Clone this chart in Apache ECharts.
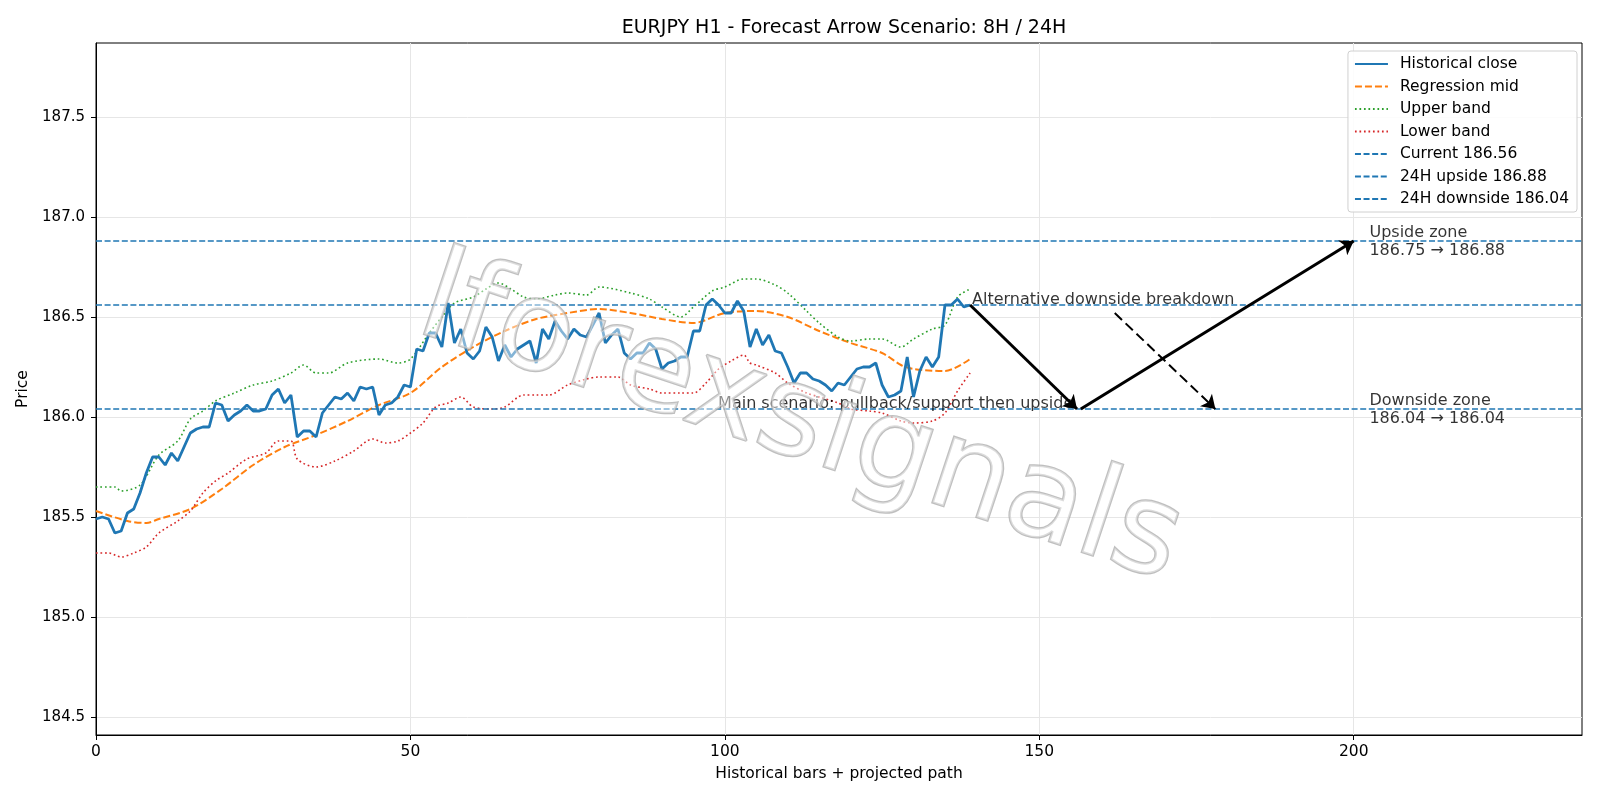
<!DOCTYPE html>
<html>
<head>
<meta charset="utf-8">
<title>EURJPY H1</title>
<script src="https://cdn.jsdelivr.net/npm/echarts@6/dist/echarts.min.js"></script>
<style>
    html, body { margin: 0; padding: 0; background: #fff; }
    #chart { width: 1600px; height: 800px; }
</style>
</head>
<body>
<div id="chart"></div>
<script>
    // historical closes, one per bar (index 0..139)
    var closes = [
        185.49, 185.50, 185.49, 185.42, 185.43, 185.52, 185.54, 185.62, 185.72, 185.80,
        185.80, 185.76, 185.82, 185.78, 185.85, 185.92, 185.94, 185.95, 185.95, 186.07,
        186.06, 185.98, 186.01, 186.03, 186.06, 186.03, 186.03, 186.04, 186.11, 186.14,
        186.07, 186.11, 185.90, 185.93, 185.93, 185.90, 186.02, 186.06, 186.10, 186.09,
        186.12, 186.08, 186.15, 186.14, 186.15, 186.01, 186.06, 186.07, 186.10, 186.16,
        186.15, 186.34, 186.33, 186.42, 186.42, 186.35, 186.57, 186.37, 186.44, 186.32,
        186.29, 186.33, 186.45, 186.40, 186.28, 186.36, 186.30, 186.34, 186.36, 186.38,
        186.27, 186.44, 186.39, 186.48, 186.43, 186.39, 186.44, 186.41, 186.40, 186.46,
        186.52, 186.37, 186.41, 186.44, 186.32, 186.29, 186.32, 186.32, 186.37, 186.34,
        186.24, 186.27, 186.28, 186.30, 186.30, 186.43, 186.43, 186.56, 186.59, 186.56,
        186.52, 186.52, 186.58, 186.53, 186.35, 186.44, 186.36, 186.41, 186.33, 186.32,
        186.25, 186.17, 186.22, 186.22, 186.19, 186.18, 186.16, 186.13, 186.17, 186.16,
        186.20, 186.24, 186.25, 186.25, 186.27, 186.16, 186.10, 186.11, 186.13, 186.30,
        186.10, 186.23, 186.30, 186.25, 186.30, 186.56, 186.56, 186.59, 186.55, 186.56
    ]

    // channel lines, read at sample bars [bar, price]
    var regMid = [
        [0, 185.53], [5, 185.48], [8, 185.47], [10, 185.49], [15, 185.54], [20, 185.64],
        [25, 185.76], [30, 185.85], [35, 185.91], [40, 185.98], [45, 186.06], [50, 186.12],
        [55, 186.25], [60, 186.35], [65, 186.43], [70, 186.49], [75, 186.52], [80, 186.54],
        [85, 186.52], [90, 186.49], [95, 186.47], [100, 186.52], [105, 186.53], [110, 186.50],
        [115, 186.43], [120, 186.37], [125, 186.32], [128, 186.26], [130, 186.24], [135, 186.23],
        [139, 186.29]
    ]

    var upperBand = [
        [0, 185.65], [3, 185.65], [4, 185.63], [7, 185.66], [10, 185.81], [13, 185.88],
        [15, 185.99], [17, 186.03], [19, 186.08], [22, 186.12], [25, 186.16], [28, 186.18],
        [31, 186.22], [33, 186.26], [35, 186.22], [37, 186.22], [40, 186.27], [45, 186.29],
        [48, 186.27], [50, 186.29], [53, 186.42], [55, 186.50], [57, 186.57], [60, 186.60],
        [62, 186.64], [64, 186.67], [66, 186.64], [68, 186.60], [70, 186.59], [73, 186.61],
        [75, 186.62], [78, 186.61], [80, 186.65], [85, 186.62], [88, 186.59], [90, 186.55],
        [93, 186.50], [95, 186.55], [98, 186.63], [100, 186.65], [103, 186.69], [105, 186.69],
        [108, 186.66], [110, 186.62], [113, 186.53], [115, 186.47], [118, 186.40], [120, 186.38],
        [123, 186.39], [125, 186.39], [128, 186.35], [130, 186.39], [133, 186.44], [135, 186.46],
        [137, 186.60], [139, 186.64]
    ]

    var lowerBand = [
        [0, 185.32], [2, 185.32], [4, 185.30], [6, 185.32], [8, 185.35], [10, 185.42],
        [13, 185.48], [15, 185.53], [17, 185.62], [19, 185.68], [21, 185.72], [24, 185.79],
        [27, 185.82], [29, 185.88], [31, 185.88], [32, 185.79], [35, 185.75], [38, 185.78],
        [41, 185.83], [44, 185.89], [46, 185.87], [48, 185.88], [50, 185.92], [52, 185.97],
        [54, 186.05], [56, 186.07], [58, 186.10], [60, 186.05], [63, 186.04], [65, 186.05],
        [68, 186.11], [70, 186.11], [72, 186.11], [75, 186.16], [78, 186.19], [80, 186.20],
        [83, 186.20], [85, 186.16], [88, 186.14], [90, 186.12], [93, 186.12], [95, 186.12],
        [97, 186.17], [99, 186.24], [101, 186.28], [103, 186.31], [104, 186.27], [105, 186.26],
        [108, 186.22], [110, 186.17], [113, 186.12], [115, 186.10], [118, 186.07], [120, 186.04],
        [123, 186.03], [125, 186.02], [128, 185.98], [130, 185.97], [133, 185.98], [135, 186.02],
        [137, 186.13], [139, 186.22]
    ]

    // levels
    var currentPrice = 186.56
    var upside24h = 186.88
    var downside24h = 186.04
    var upsideZone = [186.75, 186.88]
    var downsideZone = [186.04, 186.04]

    // scenario path [bar, price]
    var mainLeg1 = [[139, 186.56], [156, 186.04]]
    var mainLeg2 = [[156.6, 186.04], [200, 186.88]]
    var altLeg = [[162, 186.52], [178, 186.04]]

    // axes
    var xMin = 0
    var xMax = 236.3
    var yMin = 184.41
    var yMax = 187.87
    var xTicks = [0, 50, 100, 150, 200]
    var yTicks = [184.5, 185.0, 185.5, 186.0, 186.5, 187.0, 187.5]

    var FONT = 'DejaVu Sans'
    var FS = 15.5
    var GRID = { left: 96, right: 18, top: 43, bottom: 65 }
    var chart = echarts.init(document.getElementById('chart'))

    var closeData = closes.map(function (v, i) { return [i, v] })

    var hLine = function (name, level) {
        return {
            name: name,
            type: 'line',
            data: [[xMin, level], [xMax, level]],
            symbol: 'none',
            silent: true,
            itemStyle: { color: '#1f77b4' },
            lineStyle: { color: '#1f77b4', width: 1.5, type: [6, 2.6] },
            z: 3
        }
    }

    var arrow = function (coords, dashed) {
        return {
            type: 'lines',
            coordinateSystem: 'cartesian2d',
            data: [{ coords: coords }],
            symbol: ['none', 'arrow'],
            symbolSize: 13,
            silent: true,
            lineStyle: {
                color: '#000',
                width: dashed ? 2 : 3,
                type: dashed ? [10, 5] : 'solid',
                opacity: 1
            },
            z: 5
        }
    }

    var note = function (x, y, text, align, vAlign, offsetY) {
        return {
            value: [x, y],
            label: {
                show: true,
                formatter: text,
                position: [0, 0],
                align: align,
                verticalAlign: vAlign,
                offset: [0, offsetY],
                color: '#000',
                fontFamily: FONT,
                fontSize: 16,
                lineHeight: 17.5
            }
        }
    }

    var option = {
        animation: false,
        backgroundColor: '#fff',
        title: {
            text: 'EURJPY H1 - Forecast Arrow Scenario: 8H / 24H',
            left: (1600 - GRID.right + GRID.left) / 2,
            textAlign: 'center',
            top: 14,
            textStyle: { fontFamily: FONT, fontSize: 19, fontWeight: 'normal', color: '#000' }
        },
        legend: {
            orient: 'vertical',
            right: 23,
            top: 51,
            padding: [5, 8, 5, 6],
            itemWidth: 33,
            itemHeight: 14,
            itemGap: 6.5,
            backgroundColor: 'rgba(255,255,255,0.85)',
            borderColor: '#d0d0d0',
            borderWidth: 1,
            borderRadius: 3,
            itemStyle: { opacity: 0 },
            textStyle: { fontFamily: FONT, fontSize: FS, color: '#000', padding: [0, 0, 0, 7] },
            data: ['Historical close', 'Regression mid', 'Upper band', 'Lower band',
                'Current ' + currentPrice.toFixed(2),
                '24H upside ' + upside24h.toFixed(2),
                '24H downside ' + downside24h.toFixed(2)]
        },
        grid: {
            left: GRID.left,
            right: GRID.right,
            top: GRID.top,
            bottom: GRID.bottom,
            show: true,
            borderColor: '#000',
            borderWidth: 1,
            backgroundColor: 'transparent'
        },
        xAxis: {
            type: 'value',
            min: xMin,
            max: xMax,
            name: 'Historical bars + projected path',
            nameLocation: 'middle',
            nameGap: 31,
            nameTextStyle: { fontFamily: FONT, fontSize: FS, color: '#000' },
            axisLine: { lineStyle: { color: '#000' } },
            axisTick: { show: true, length: 5, lineStyle: { color: '#000' }, customValues: xTicks },
            axisLabel: { fontFamily: FONT, fontSize: FS, color: '#000', margin: 9, customValues: xTicks },
            splitLine: { show: true, lineStyle: { color: '#e6e6e6', width: 1 } }
        },
        yAxis: {
            type: 'value',
            min: yMin,
            max: yMax,
            name: 'Price',
            nameLocation: 'middle',
            nameGap: 60,
            nameTextStyle: { fontFamily: FONT, fontSize: FS, color: '#000' },
            axisLine: { show: true, lineStyle: { color: '#000' } },
            axisTick: { show: true, length: 5, lineStyle: { color: '#000' }, customValues: yTicks },
            axisLabel: {
                fontFamily: FONT, fontSize: 15, color: '#000', margin: 11,
                customValues: yTicks,
                formatter: function (v) { return v.toFixed(1) }
            },
            splitLine: { show: true, lineStyle: { color: '#e6e6e6', width: 1 } }
        },
        graphic: [{
            type: 'text',
            x: 800,
            y: 424,
            rotation: -0.32,
            z: 100,
            silent: true,
            style: {
                text: 'lforexsignals',
                font: '126px "DejaVu Sans"',
                align: 'center',
                verticalAlign: 'middle',
                fill: 'rgba(255,255,255,0.45)',
                stroke: 'rgba(170,170,170,0.75)',
                lineWidth: 2.5,
                shadowColor: 'rgba(0,0,0,0.2)',
                shadowOffsetX: 3,
                shadowOffsetY: 3,
                shadowBlur: 1
            }
        }],
        series: [
            {
                name: 'Historical close',
                type: 'line',
                data: closeData,
                symbol: 'none',
                lineStyle: { color: '#1f77b4', width: 2.8 },
                itemStyle: { color: '#1f77b4' },
                z: 4
            },
            {
                name: 'Regression mid',
                type: 'line',
                data: regMid,
                symbol: 'none',
                smooth: 0.3,
                lineStyle: { color: '#ff7f0e', width: 2, type: [7, 3] },
                itemStyle: { color: '#ff7f0e' },
                z: 3
            },
            {
                name: 'Upper band',
                type: 'line',
                data: upperBand,
                symbol: 'none',
                smooth: 0.3,
                lineStyle: { color: '#2ca02c', width: 1.6, type: [1.7, 2.8] },
                itemStyle: { color: '#2ca02c' },
                z: 3
            },
            {
                name: 'Lower band',
                type: 'line',
                data: lowerBand,
                symbol: 'none',
                smooth: 0.3,
                lineStyle: { color: '#d62728', width: 1.6, type: [1.7, 2.8] },
                itemStyle: { color: '#d62728' },
                z: 3
            },
            hLine('Current ' + currentPrice.toFixed(2), currentPrice),
            hLine('24H upside ' + upside24h.toFixed(2), upside24h),
            hLine('24H downside ' + downside24h.toFixed(2), downside24h),
            arrow(mainLeg1, false),
            arrow(mainLeg2, false),
            arrow(altLeg, true),
            {
                type: 'scatter',
                symbolSize: 0,
                silent: true,
                z: 6,
                data: [
                    note(139.3, currentPrice, 'Alternative downside breakdown', 'left', 'bottom', 4),
                    note(155.4, downside24h, 'Main scenario: pullback/support then upside', 'right', 'bottom', 4),
                    note(202.5, upside24h, 'Upside zone\n' + upsideZone[0].toFixed(2) + ' \u2192 ' + upsideZone[1].toFixed(2), 'left', 'middle', 1),
                    note(202.5, downside24h, 'Downside zone\n' + downsideZone[0].toFixed(2) + ' \u2192 ' + downsideZone[1].toFixed(2), 'left', 'middle', 1)
                ]
            }
        ]
    }

    chart.setOption(option)
</script>
</body>
</html>
